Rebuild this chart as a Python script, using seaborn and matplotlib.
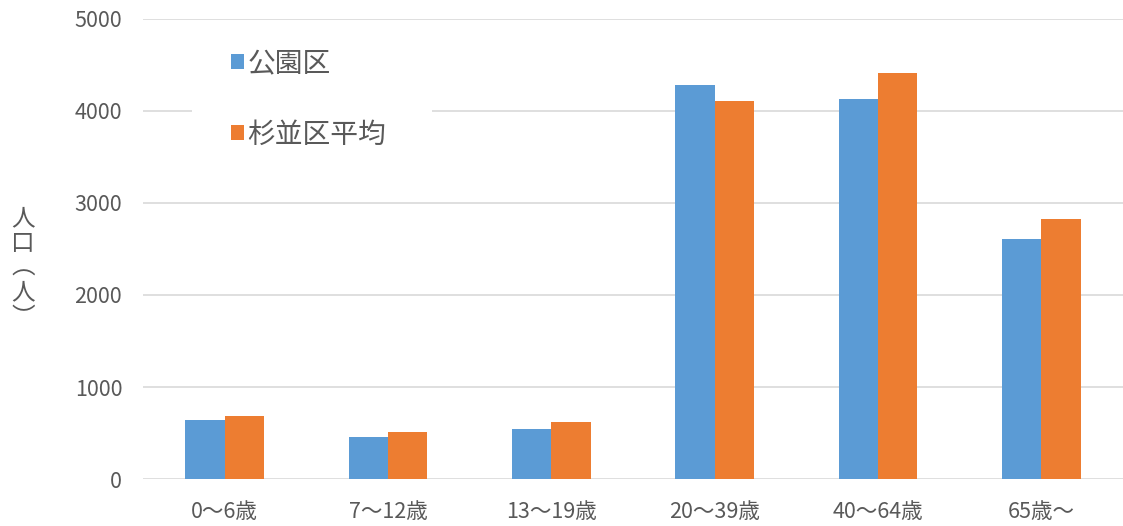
import matplotlib
matplotlib.use("Agg")
import matplotlib.pyplot as plt
from matplotlib.patches import Rectangle
import pandas as pd
import seaborn as sns

# Population by age group
age_groups = ["0〜6歳", "7〜12歳", "13〜19歳", "20〜39歳", "40〜64歳", "65歳〜"]
koen_ku = [637, 460, 547, 4283, 4134, 2609]
suginami_avg = [685, 511, 620, 4109, 4413, 2823]
series_names = ["公園区", "杉並区平均"]
y_ticks = [0, 1000, 2000, 3000, 4000, 5000]

df = pd.DataFrame({
    "age": age_groups * 2,
    "pop": koen_ku + suginami_avg,
    "series": [series_names[0]] * len(age_groups) + [series_names[1]] * len(age_groups),
})

sns.set_theme(style="white")
plt.rcParams["font.family"] = ["Noto Sans CJK JP", "DejaVu Sans"]

fig = plt.figure(figsize=(11.23, 5.26), dpi=100)
ax = fig.add_axes([143 / 1123, 1 - 479 / 526, (1123 - 143) / 1123, (479 - 19) / 526])

sns.barplot(data=df, x="age", y="pop", hue="series", order=age_groups,
            hue_order=series_names, palette=["#5B9BD5", "#ED7D31"],
            width=0.48, linewidth=0, saturation=1, ax=ax, legend=True)

ax.set_ylim(0, 5000)
ax.set_xlim(-0.5, len(age_groups) - 0.5)
ax.set_yticks(y_ticks)
ax.yaxis.grid(True, color="#D9D9D9", linewidth=1.2)
ax.set_axisbelow(True)
for s in ax.spines.values():
    s.set_visible(False)
ax.tick_params(axis="both", length=0, labelsize=15.5, colors="#595959")
ax.tick_params(axis="y", pad=15)
ax.tick_params(axis="x", pad=16)
ax.set_xlabel("")
ax.set_ylabel("")

# y-axis title, characters stacked vertically
fig.text(23 / 1123, 1 - 268 / 526, "人\n口\n︵\n人\n︶", ha="center", va="center",
         fontsize=17, color="#595959", linespacing=1.1)

# legend on a white panel
panel = Rectangle(((192 - 143) / 980, (479 - 152) / 460), 240 / 980, 107 / 460,
                  transform=ax.transAxes, facecolor="white", edgecolor="none", zorder=2)
ax.add_patch(panel)
handles, labels = ax.get_legend_handles_labels()
leg = ax.legend(handles, labels, loc="upper left",
                bbox_to_anchor=((231 - 143) / 980, (479 - 48) / 460),
                frameon=False, fontsize=20, labelcolor="#595959",
                handlelength=0.45, handleheight=0.45, handletextpad=0.15,
                labelspacing=1.5, borderpad=0, borderaxespad=0)
leg.set_zorder(3)

fig.savefig("out.png", dpi=100, facecolor="white")
